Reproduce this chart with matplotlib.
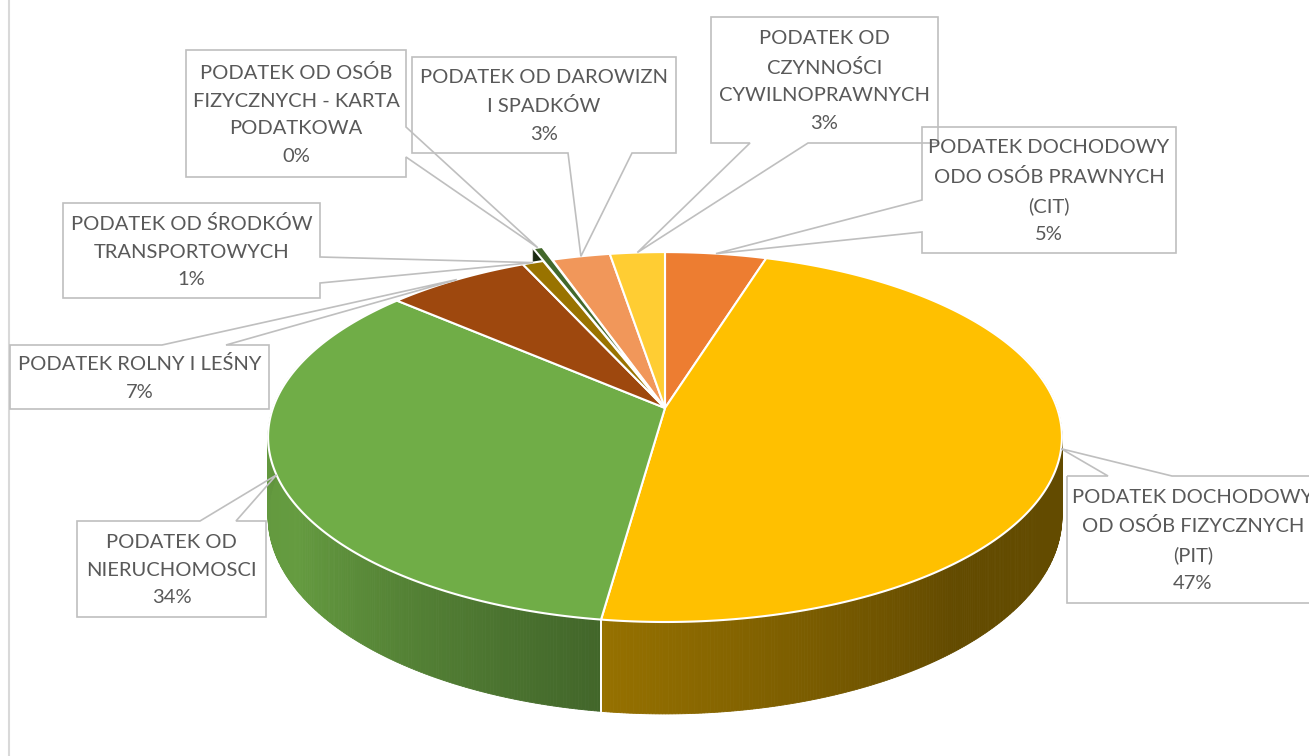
import numpy as np
import matplotlib
matplotlib.use("Agg")
import matplotlib.pyplot as plt
from matplotlib.patches import Polygon
from matplotlib.colors import to_rgb

# ---------------- data ----------------
categories = [
    "PODATEK DOCHODOWY\nODO OSÓB PRAWNYCH\n(CIT)",
    "PODATEK DOCHODOWY\nOD OSÓB FIZYCZNYCH\n(PIT)",
    "PODATEK OD\nNIERUCHOMOSCI",
    "PODATEK ROLNY I LEŚNY",
    "PODATEK OD ŚRODKÓW\nTRANSPORTOWYCH",
    "PODATEK OD OSÓB\nFIZYCZNYCH - KARTA\nPODATKOWA",
    "PODATEK OD DAROWIZN\nI SPADKÓW",
    "PODATEK OD\nCZYNNOŚCI\nCYWILNOPRAWNYCH",
]
values = [4.8, 47.4, 34.2, 6.8, 1.0, 0.45, 2.75, 2.6]
colors = ["#ed7d31", "#ffc000", "#70ad47", "#9e480e",
          "#997300", "#43682b", "#f1975a", "#ffcd33"]
explode = [0, 0, 0, 0, 0, 0.1, 0, 0]

# ---------------- layout ----------------
boxes = [
    (922, 127, 1176, 253),
    (1067, 476, 1330, 603),
    (77, 521, 266, 617),
    (10, 345, 269, 409),
    (63, 203, 320, 298),
    (186, 50, 406, 177),
    (412, 57, 676, 153),
    (711, 17, 938, 143),
]
wedges = [
    ("left", 232, 200),
    ("top", 1108, 1172),
    ("top", 200, 236),
    ("top", 162, 226),
    ("right", 257, 283),
    ("right", 127, 157),
    ("bottom", 632, 568),
    ("bottom", 808, 750),
]

W, Hpx = 1309, 756
fig = plt.figure(figsize=(W / 100, Hpx / 100), dpi=100)
ax = fig.add_axes([0, 0, 1, 1])
ax.set_xlim(0, W)
ax.set_ylim(Hpx, 0)
ax.axis("off")

CX, CY, A, B, K, DEPTH = 665, 408, 392, 180.4, 0.157, 77.5


def proj(u, v, depth=0.0):
    d = 1 - K * v
    return CX + A * u / d, CY + (B * v + depth) / d


def uv(theta_deg, r=1.0):
    t = np.radians(theta_deg)
    return r * np.sin(t), -r * np.cos(t)


def shade(theta):
    return np.interp(theta % 360,
                     [0, 90, 140, 188, 240, 265, 275, 360],
                     [0.39, 0.39, 0.39, 0.59, 0.90, 0.88, 0.84, 0.84])


fracs = np.array(values) / np.sum(values)
edges = np.concatenate([[0], np.cumsum(fracs)]) * 360.0

# ---- outer walls ----
for i, (t1, t2) in enumerate(zip(edges[:-1], edges[1:])):
    mid = (t1 + t2) / 2
    ou, ov = uv(mid, explode[i])
    rgb = np.array(to_rgb(colors[i]))
    n = max(2, int((t2 - t1) / 0.4) + 2)
    ts = np.linspace(t1, t2, n)
    for a, b in zip(ts[:-1], ts[1:]):
        ua, va = uv(a)
        ub, vb = uv(b)
        if va < -0.3 and vb < -0.3:
            continue
        pts = [proj(ua + ou, va + ov), proj(ub + ou, vb + ov),
               proj(ub + ou, vb + ov, DEPTH), proj(ua + ou, va + ov, DEPTH)]
        c = np.clip(rgb * shade((a + b) / 2), 0, 1)
        ax.add_patch(Polygon(pts, closed=True, fc=c, ec=c, lw=0.6, zorder=2))
    for t in (t1, t2):
        u, v = uv(t)
        if v > 0.2:
            p1 = proj(u + ou, v + ov)
            p2 = proj(u + ou, v + ov, DEPTH)
            ax.plot([p1[0], p2[0]], [p1[1], p2[1]], color="white", lw=1.3, zorder=2.5)

# ---- radial face of exploded slice ----
for i, (t1, t2) in enumerate(zip(edges[:-1], edges[1:])):
    if explode[i] <= 0:
        continue
    mid = (t1 + t2) / 2
    ou, ov = uv(mid, explode[i])
    u, v = uv(t1)
    pts = [proj(ou, ov), proj(u + ou, v + ov),
           proj(u + ou, v + ov, DEPTH), proj(ou, ov, DEPTH)]
    ax.add_patch(Polygon(pts, closed=True, fc="#1b2a12", ec="#1b2a12", lw=0.5, zorder=2.8))

# ---- top faces ----
for i, (t1, t2) in enumerate(zip(edges[:-1], edges[1:])):
    mid = (t1 + t2) / 2
    ou, ov = uv(mid, explode[i])
    n = max(3, int((t2 - t1) / 0.5) + 2)
    ts = np.linspace(t1, t2, n)
    pts = [proj(ou, ov)]
    for t in ts:
        u, v = uv(t)
        pts.append(proj(u + ou, v + ov))
    z = 3.2 if explode[i] > 0 else 3
    ax.add_patch(Polygon(pts, closed=True, fc=colors[i], ec="white", lw=1.5,
                         joinstyle="round", zorder=z))

# ---- callouts ----
for i, (t1, t2) in enumerate(zip(edges[:-1], edges[1:])):
    mid = (t1 + t2) / 2
    ou, ov = uv(mid, explode[i])
    u, v = uv(mid)
    tip = proj(u + ou, v + ov)
    x0, y0, x1, y1 = boxes[i]
    side, b1, b2 = wedges[i]
    tl, tr, br, bl = (x0, y0), (x1, y0), (x1, y1), (x0, y1)
    if side == "top":
        poly = [tl, (b1, y0), tip, (b2, y0), tr, br, bl]
    elif side == "right":
        poly = [tl, tr, (x1, b1), tip, (x1, b2), br, bl]
    elif side == "bottom":
        poly = [tl, tr, br, (b1, y1), tip, (b2, y1), bl]
    else:
        poly = [tl, tr, br, bl, (x0, b1), tip, (x0, b2)]
    ax.add_patch(Polygon(poly, closed=True, fc="white", ec="none", zorder=1))
    ax.add_patch(Polygon(poly, closed=True, fc="none", ec="#bfbfbf", lw=1.2,
                         joinstyle="miter", zorder=5))
    cx = (x0 + x1) / 2 if i != 1 else 1193
    ax.text(cx, (y0 + y1) / 2 + 1, f"{categories[i]}\n{round(values[i])}%",
            ha="center", va="center", fontsize=14.5, color="#595959",
            family="Lato", linespacing=1.76, zorder=6)

# chart-area left border
ax.plot([9, 9], [0, Hpx], color="#d9d9d9", lw=1.5, zorder=0)

fig.savefig("out.png", dpi=100, facecolor="white")
